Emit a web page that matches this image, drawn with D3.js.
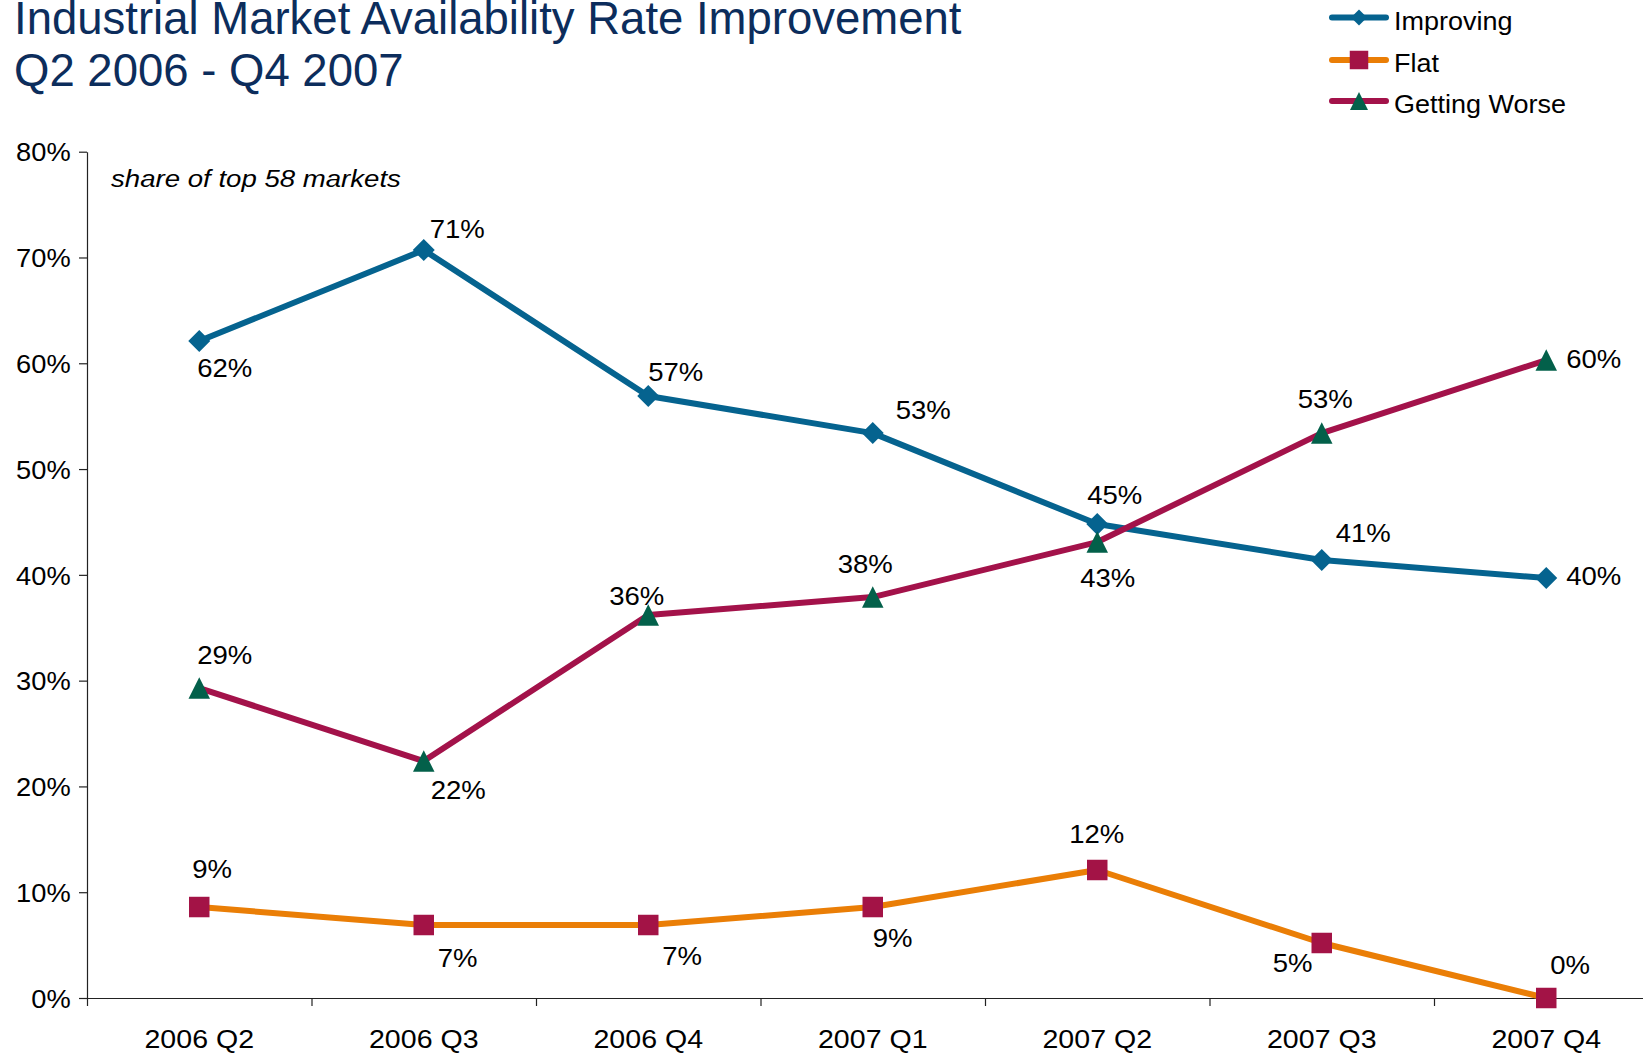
<!DOCTYPE html>
<html>
<head>
<meta charset="utf-8">
<script src="https://cdn.jsdelivr.net/npm/d3@7"></script>
<style>
  html, body { margin: 0; padding: 0; background: #fff; }
  svg { display: block; font-family: "Liberation Sans", Arial, sans-serif; }
</style>
</head>
<body>
<svg id="chart" width="1643" height="1055"></svg>
<script>
// Quarterly share of the top 58 industrial markets, in percent
const quarters = ["2006 Q2", "2006 Q3", "2006 Q4", "2007 Q1", "2007 Q2", "2007 Q3", "2007 Q4"];
const improving = [62.1, 70.7, 56.9, 53.4, 44.8, 41.4, 39.7];
const flat = [8.6, 6.9, 6.9, 8.6, 12.1, 5.2, 0.0];
const gettingWorse = [29.3, 22.4, 36.2, 37.9, 43.1, 53.4, 60.3];
const yTicks = [0, 10, 20, 30, 40, 50, 60, 70, 80];

// Nudges for each value label, relative to its point: [dx, dy]
const improvingLabelNudge = [[-2, 36], [6, -12], [0, -15], [23, -14], [-10, -20], [14, -18], [20, 7]];
const flatLabelNudge = [[-7, -29], [14, 42], [14, 40], [0, 40], [-28, -27], [-49, 29], [4, -24]];
const worseLabelNudge = [[-2, -24], [7, 38], [-39, -10], [-35, -24], [-17, 45], [-24, -25], [20, 8]];

// Marker symbols centred on their bounding box; size = bounding width
const symDiamond = { draw(ctx, s) { const r = s / 2; ctx.moveTo(0, -r); ctx.lineTo(r, 0); ctx.lineTo(0, r); ctx.lineTo(-r, 0); ctx.closePath(); } };
const symSquare = { draw(ctx, s) { const r = s / 2; ctx.moveTo(-r, -r); ctx.lineTo(r, -r); ctx.lineTo(r, r); ctx.lineTo(-r, r); ctx.closePath(); } };
const symTriangle = { draw(ctx, s) { const r = s / 2; ctx.moveTo(0, -r); ctx.lineTo(r, r); ctx.lineTo(-r, r); ctx.closePath(); } };

const series = [
  { name: "Improving", values: improving, nudge: improvingLabelNudge,
    line: "#05638f", marker: "#05638f", sym: symDiamond, size: 22, legendSize: 16 },
  { name: "Flat", values: flat, nudge: flatLabelNudge,
    line: "#ea7e06", marker: "#a31346", sym: symSquare, size: 20.5, legendSize: 18.5 },
  { name: "Getting Worse", values: gettingWorse, nudge: worseLabelNudge,
    line: "#a3124a", marker: "#03604a", sym: symTriangle, size: 21.5, legendSize: 18 }
];

const svg = d3.select("#chart");
const plotLeft = 87, plotTop = 151.7, plotBottom = 998, band = 224.5;

const x = d3.scaleBand().domain(quarters).range([plotLeft, plotLeft + band * quarters.length]).padding(0);
const xEdge = d3.scaleLinear().domain([0, quarters.length]).range([plotLeft, plotLeft + band * quarters.length]);
const y = d3.scaleLinear().domain([0, 80]).range([plotBottom, plotTop]);
const cx = d => x(d) + x.bandwidth() / 2;

// Slightly widened text, anchored at (px, py)
function label(g, px, py, str, size, sx, anchor = "start", extra = {}) {
  const t = g.append("text")
    .attr("transform", `translate(${px},${py}) scale(${sx},1)`)
    .attr("text-anchor", anchor)
    .style("font-size", size + "px")
    .attr("fill", extra.fill || "#000")
    .text(str);
  if (extra.italic) t.style("font-style", "italic");
  return t;
}

// Title
const titleColor = "#0c2d5c";
label(svg, 14, 33.5, "Industrial Market Availability Rate Improvement", 45.5, 1.0, "start", { fill: titleColor });
label(svg, 14, 86, "Q2 2006 - Q4 2007", 45.5, 1.0, "start", { fill: titleColor });

// Y axis
const yAxis = svg.append("g")
  .attr("transform", `translate(${plotLeft},0)`)
  .call(d3.axisLeft(y).tickValues(yTicks).tickFormat(d => d + "%").tickSize(8).tickSizeOuter(0));
yAxis.select(".domain").attr("stroke", "#222").attr("stroke-width", 1.2);
yAxis.selectAll(".tick line").attr("stroke", "#222").attr("stroke-width", 1.2);
yAxis.selectAll(".tick text")
  .attr("x", null).attr("dy", "0.36em")
  .attr("transform", "translate(-16.3,0) scale(1.07,1)")
  .style("font-size", "25.5px").style("font-family", "Liberation Sans, Arial, sans-serif")
  .attr("fill", "#000");

// X axis: boundary ticks between quarters
const xAxis = svg.append("g")
  .attr("transform", `translate(0,${plotBottom})`)
  .call(d3.axisBottom(xEdge).tickValues(d3.range(0, quarters.length + 1)).tickFormat("").tickSize(8).tickSizeOuter(0));
xAxis.select(".domain").attr("stroke", "#222").attr("stroke-width", 1.2);
xAxis.selectAll(".tick line").attr("stroke", "#222").attr("stroke-width", 1.2);

// Quarter labels centred under each band
const xLabels = svg.append("g");
quarters.forEach(q => label(xLabels, cx(q), 1048, q, 25.5, 1.12, "middle"));

// Note inside the plot
label(svg, 111, 186.5, "share of top 58 markets", 24, 1.15, "start", { italic: true });

const lineGen = d3.line().x((d, i) => cx(quarters[i])).y(d => y(d));

series.forEach(s => {
  const g = svg.append("g").attr("class", "series");
  g.append("path")
    .attr("d", lineGen(s.values))
    .attr("fill", "none")
    .attr("stroke", s.line)
    .attr("stroke-width", 6)
    .attr("stroke-linejoin", "round");
  g.selectAll("path.mark")
    .data(s.values)
    .join("path")
    .attr("class", "mark")
    .attr("d", d3.symbol().type(s.sym).size(s.size)())
    .attr("transform", (d, i) => `translate(${cx(quarters[i])},${y(d)})`)
    .attr("fill", s.marker);
});

// Value labels
const fmt = d => Math.round(d) + "%";
series.forEach(s => {
  const g = svg.append("g").attr("class", "labels");
  s.values.forEach((v, i) => {
    const [dx, dy] = s.nudge[i];
    label(g, cx(quarters[i]) + dx, y(v) + dy, fmt(v), 25.5, 1.08, "start");
  });
});

// Legend
const legend = svg.append("g");
const legendY = [17.5, 60, 101];
series.forEach((s, i) => {
  const ly = legendY[i];
  legend.append("line")
    .attr("x1", 1332).attr("x2", 1386).attr("y1", ly).attr("y2", ly)
    .attr("stroke", s.line).attr("stroke-width", 6).attr("stroke-linecap", "round");
  legend.append("path")
    .attr("d", d3.symbol().type(s.sym).size(s.legendSize)())
    .attr("transform", `translate(1359,${ly})`)
    .attr("fill", s.marker);
  label(legend, 1394, ly + 12, s.name, 25, 1.08, "start");
});
</script>
</body>
</html>
